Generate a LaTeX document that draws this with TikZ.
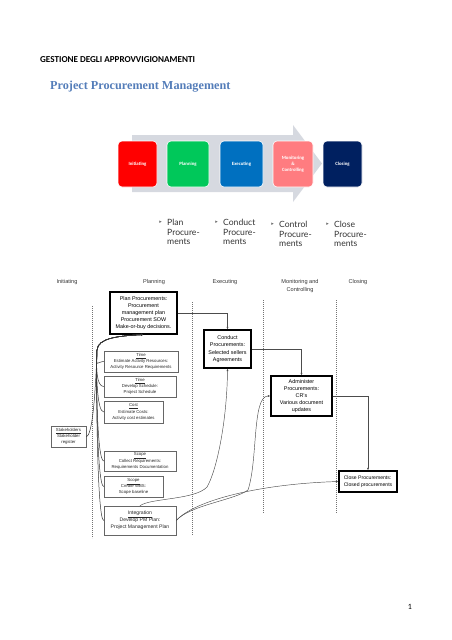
\documentclass[tikz,border=0pt]{standalone}
\usepackage{fontspec}
\setmainfont{Liberation Sans}
\newfontfamily\calibri{Carlito}
\newfontfamily\cambria{Liberation Serif}
\newfontfamily\gill{Lato}
\newfontfamily\symb{DejaVu Sans}
\usetikzlibrary{arrows.meta}
\definecolor{titleblue}{RGB}{84,125,185}
\definecolor{arrowgray}{RGB}{214,217,224}
\definecolor{initred}{RGB}{255,0,0}
\definecolor{plangreen}{RGB}{0,200,90}
\definecolor{execblue}{RGB}{0,112,192}
\definecolor{monpink}{RGB}{255,124,128}
\definecolor{closenavy}{RGB}{0,32,96}
\tikzset{
        x=1pt, y=-1pt,
        phase/.style={rounded corners=4pt, draw=white, line width=0.6pt, minimum height=46, inner sep=1pt, text=white, align=center, font=\calibri\bfseries\fontsize{4.8}{5.8}\selectfont},
        bullet/.style={anchor=north west, align=left, inner sep=0pt, text=black!80, font=\gill\fontsize{8.6}{9.6}\selectfont},
        bulletmark/.style={anchor=north east, inner sep=0pt, text=black!60, font=\symb\fontsize{5}{6}\selectfont},
        lanehead/.style={align=center, text=black!80, font=\fontsize{5.6}{7.6}\selectfont},
        bigbox/.style={draw=black, line width=1.1pt, align=center, inner sep=1pt, fill=white, font=\fontsize{5.4}{7.2}\selectfont},
        smallbox/.style={draw=black!60, line width=0.5pt, align=center, inner sep=0.5pt, fill=white, text=black!85, font=\fontsize{4.3}{6.1}\selectfont},
        lane/.style={draw=black!55, dash pattern=on 1.2pt off 0.8pt, line width=0.4pt},
        flow/.style={draw=black!70, line width=0.45pt, -{Latex[length=2.6pt,width=2pt]}},
        feed/.style={draw=black!80, line width=0.5pt, -{Latex[length=2.6pt,width=2pt]}}
          }
\begin{document}
\begin{tikzpicture}
        \useasboundingbox (0,0) rectangle (452,640);
        \node[anchor=west, inner sep=0pt, font=\calibri\bfseries\fontsize{9.1}{10}\selectfont] (doctitle) at (40,60) {GESTIONE DEGLI APPROVVIGIONAMENTI};
        \node[anchor=west, inner sep=0pt, text=titleblue, font=\cambria\bfseries\fontsize{12.2}{14}\selectfont] (ppm) at (50,87) {Project Procurement Management};

        \fill[arrowgray] (132,135) -- (293,135) -- (293,125) -- (322,163.5) -- (293,202) -- (293,192) -- (132,192) -- cycle;
        \node[phase, fill=initred, minimum width=39] (initiating) at (137.5,164) {Initiating};
        \node[phase, fill=plangreen, minimum width=42] (planning) at (188,164) {Planning};
        \node[phase, fill=execblue, minimum width=43] (executing) at (241.5,164) {Executing};
        \node[phase, fill=monpink, minimum width=40] (monitoring) at (293,164) {Monitoring\\\&\\Controlling};
        \node[phase, fill=closenavy, minimum width=39] (closing) at (342.5,164) {Closing};

        \node[bullet] (b1) at (167,219) {Plan\\Procure-\\ments};
        \node[bullet] (b2) at (223,219) {Conduct\\Procure-\\ments};
        \node[bullet] (b3) at (279,221) {Control\\Procure-\\ments};
        \node[bullet] (b4) at (334,221) {Close\\Procure-\\ments};
        \foreach \b in {b1,b2,b3,b4}
          \node[bulletmark] at ([xshift=-5pt,yshift=-2pt]\b.north west) {▸};

        \node[lanehead] (hinit) at (67,282) {Initiating};
        \node[lanehead] (hplan) at (154,282) {Planning};
        \node[lanehead] (hexec) at (225,282) {Executing};
        \node[lanehead] (hmon) at (300,286) {Monitoring and\\Controlling};
        \node[lanehead] (hclose) at (358,282) {Closing};
        \foreach \x/\a/\b in {92/306/538, 192/302/535, 263/300/513, 336/300/513}
          \draw[lane] (\x,\a) -- (\x,\b);

        \node[bigbox, minimum width=67, minimum height=42] (plan) at (143.5,313) {Plan Procurements:\\Procurement\\management plan\\Procurement SOW\\Make-or-buy decisions.};
        \node[bigbox, minimum width=47, minimum height=38] (conduct) at (227.5,349) {Conduct\\Procurements:\\Selected sellers\\Agreements};
        \node[bigbox, minimum width=61, minimum height=40] (admin) at (301.5,396) {Administer\\Procurements:\\CR's\\Various document\\updates};
        \node[bigbox, minimum width=58, minimum height=21, align=left, font=\fontsize{5.1}{6.6}\selectfont] (close) at (368,481.5) {Close Procurements:\\Closed procurements};

        \node[smallbox, minimum width=74, minimum height=21] (t1) at (141,361.5) {\underline{Time}\\Estimate Activity Resources:\\Activity Resource Requirements};
        \node[smallbox, minimum width=72, minimum height=21] (t2) at (140,386.5) {\underline{Time}\\Develop Schedule:\\Project Schedule};
        \node[smallbox, minimum width=59, minimum height=22] (cost) at (133.5,412) {\underline{Cost}\\Estimate Costs:\\Activity cost estimates};
        \node[smallbox, minimum width=35, minimum height=21] (sh) at (68.5,436.5) {\underline{Stakeholders}\\Stakeholder\\register};
        \node[smallbox, minimum width=72, minimum height=20] (sc1) at (140,461) {\underline{Scope}\\Collect Requirements:\\Requirements Documentation};
        \node[smallbox, minimum width=59, minimum height=21] (sc2) at (133.5,486.5) {\underline{Scope}\\Create WBS:\\Scope baseline};
        \node[smallbox, minimum width=72, minimum height=29, font=\fontsize{5.1}{7}\selectfont] (integ) at (140,520.5) {\underline{Integration}\\Develop PM Plan:\\Project Management Plan};

        \draw[flow] (plan.east) -| (conduct.north);
        \draw[flow] (conduct.east) -| (admin.north);
        \draw[flow] (admin.east) -| (close.north);

        \foreach \b in {t1,t2,cost,sc1,sc2,integ}
          \draw[feed] (\b.west) .. controls +(-7,0) and (96,370) .. (97,350) .. controls (98,338) and (118,336) .. (plan.south);
        \draw[feed] (sh.east) .. controls +(7,0) and (96,380) .. (97,350) .. controls (98,338) and (118,336) .. (plan.south);

        \draw[flow] (integ.north) .. controls (150,498) and (195,500) .. (207,487) .. controls (217,470) and (227,420) .. (conduct.south);
        \draw[flow] (integ.east) .. controls (190,505) and (235,500) .. (248,490) .. controls (258,460) and (252,396) .. (admin.west);
        \draw[flow] (integ.east) .. controls (195,500) and (260,484) .. (close.west);

        \node[font=\calibri\fontsize{8}{9}\selectfont, inner sep=0pt] (pagenum) at (410,607) {1};
      \end{tikzpicture}
\end{document}
